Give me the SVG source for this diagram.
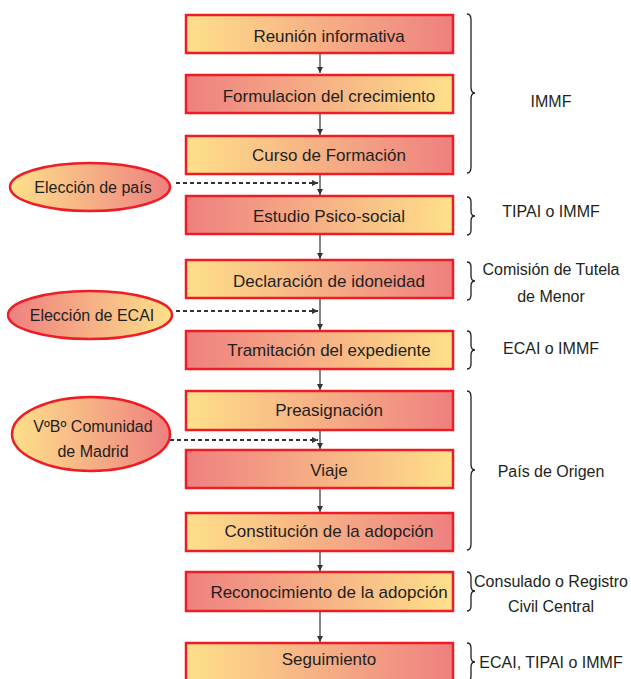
<svg xmlns="http://www.w3.org/2000/svg" width="631" height="679" viewBox="0 0 631 679">
<defs>
<linearGradient id="yr" x1="0" y1="0" x2="1" y2="0"><stop offset="0" stop-color="#FEE08A"/><stop offset="1" stop-color="#EE8080"/></linearGradient>
<linearGradient id="ry" x1="0" y1="0" x2="1" y2="0"><stop offset="0" stop-color="#EE8080"/><stop offset="1" stop-color="#FEE08A"/></linearGradient>
<marker id="ah" viewBox="0 0 10 10" refX="10" refY="5" markerWidth="6" markerHeight="6" markerUnits="userSpaceOnUse" orient="auto"><path d="M0,0 L10,5 L0,10 z" fill="#333"/></marker>
<marker id="ahd" viewBox="0 0 10 10" refX="10" refY="5" markerWidth="7" markerHeight="6" markerUnits="userSpaceOnUse" orient="auto"><path d="M0,0 L10,5 L0,10 z" fill="#333"/></marker>
<style>
.box{stroke:#EE1C25;stroke-width:2.5}
.t{font-family:"Liberation Sans",Arial,sans-serif;font-size:17px;fill:#231F20;text-anchor:middle}
.te{font-family:"Liberation Sans",Arial,sans-serif;font-size:16px;fill:#231F20;text-anchor:middle}
.tr{font-family:"Liberation Sans",Arial,sans-serif;font-size:16px;fill:#231F20;text-anchor:middle}
.arr{stroke:#333;stroke-width:1.2;fill:none;marker-end:url(#ah)}
.dash{stroke:#333;stroke-width:1.8;stroke-dasharray:4 3;fill:none;marker-end:url(#ahd)}
.brace{stroke:#231F20;stroke-width:1.3;fill:none}
</style>
</defs>

<g id="connectors">
<line class="arr" x1="320" y1="54" x2="320" y2="73"/>
<line class="arr" x1="320" y1="114" x2="320" y2="135"/>
<line class="arr" x1="320" y1="175" x2="320" y2="195"/>
<line class="arr" x1="320" y1="235" x2="320" y2="259"/>
<line class="arr" x1="320" y1="299" x2="320" y2="330"/>
<line class="arr" x1="320" y1="370" x2="320" y2="390"/>
<line class="arr" x1="320" y1="431" x2="320" y2="449"/>
<line class="arr" x1="320" y1="489" x2="320" y2="512"/>
<line class="arr" x1="320" y1="552" x2="320" y2="571"/>
<line class="arr" x1="320" y1="612" x2="320" y2="642"/>
<line class="dash" x1="176" y1="183" x2="318" y2="183"/>
<line class="dash" x1="176" y1="311" x2="318" y2="311"/>
<line class="dash" x1="170" y1="440" x2="318" y2="440"/>
</g>

<g id="n1"><rect class="box" x="186" y="15" width="267" height="38" fill="url(#yr)"/><text class="t" x="329" y="42">Reunión informativa</text></g>
<g id="n2"><rect class="box" x="186" y="75" width="267" height="38" fill="url(#ry)"/><text class="t" x="329" y="102">Formulacion del crecimiento</text></g>
<g id="n3"><rect class="box" x="186" y="136" width="267" height="38" fill="url(#yr)"/><text class="t" x="329" y="161">Curso de Formación</text></g>
<g id="n4"><rect class="box" x="186" y="196" width="267" height="38" fill="url(#ry)"/><text class="t" x="329" y="222">Estudio Psico-social</text></g>
<g id="n5"><rect class="box" x="186" y="260" width="267" height="38" fill="url(#yr)"/><text class="t" x="329" y="287">Declaración de idoneidad</text></g>
<g id="n6"><rect class="box" x="186" y="331" width="267" height="38" fill="url(#ry)"/><text class="t" x="329" y="356">Tramitación del expediente</text></g>
<g id="n7"><rect class="box" x="186" y="391" width="267" height="39" fill="url(#yr)"/><text class="t" x="329" y="416">Preasignación</text></g>
<g id="n8"><rect class="box" x="186" y="450" width="267" height="38" fill="url(#ry)"/><text class="t" x="329" y="476">Viaje</text></g>
<g id="n9"><rect class="box" x="186" y="513" width="267" height="38" fill="url(#yr)"/><text class="t" x="329" y="537">Constitución de la adopción</text></g>
<g id="n10"><rect class="box" x="186" y="572" width="267" height="39" fill="url(#ry)"/><text class="t" x="329" y="598">Reconocimiento de la adopción</text></g>
<g id="n11"><rect class="box" x="186" y="643" width="267" height="40" fill="url(#yr)"/><text class="t" x="329" y="665">Seguimiento</text></g>

<g id="e1"><ellipse class="box" cx="90" cy="187" rx="80" ry="24" fill="url(#yr)"/><text class="te" x="93" y="193">Elección de país</text></g>
<g id="e2"><ellipse class="box" cx="90" cy="315" rx="82" ry="24" fill="url(#ry)"/><text class="te" x="92" y="321">Elección de ECAI</text></g>
<g id="e3"><ellipse class="box" cx="91" cy="434" rx="79" ry="37" fill="url(#yr)"/><text class="te" x="93" y="432">VºBº Comunidad</text><text class="te" x="93" y="457">de Madrid</text></g>

<g id="b1"><path class="brace" d="M467,14 Q471,14 471,20 L471,87 Q471,93 475,93 Q471,93 471,99 L471,167 Q471,173 467,173"/><text class="tr" x="551" y="107">IMMF</text></g>
<g id="b2"><path class="brace" d="M467,197 Q471,197 471,202 L471,211 Q471,216 475,216 Q471,216 471,221 L471,230 Q471,235 467,235"/><text class="tr" x="551" y="217">TIPAI o IMMF</text></g>
<g id="b3"><path class="brace" d="M467,262 Q471,262 471,267 L471,276 Q471,281 475,281 Q471,281 471,286 L471,295 Q471,300 467,300"/><text class="tr" x="551" y="275">Comisión de Tutela</text><text class="tr" x="551" y="302">de Menor</text></g>
<g id="b4"><path class="brace" d="M467,331 Q471,331 471,336 L471,345 Q471,350 475,350 Q471,350 471,355 L471,364 Q471,369 467,369"/><text class="tr" x="551" y="354">ECAI o IMMF</text></g>
<g id="b5"><path class="brace" d="M467,391 Q471,391 471,397 L471,464 Q471,470 475,470 Q471,470 471,476 L471,544 Q471,550 467,550"/><text class="tr" x="551" y="477">País de Origen</text></g>
<g id="b6"><path class="brace" d="M467,572 Q471,572 471,577 L471,586 Q471,591 475,591 Q471,591 471,596 L471,606 Q471,611 467,611"/><text class="tr" x="551" y="587">Consulado o Registro</text><text class="tr" x="551" y="612">Civil Central</text></g>
<g id="b7"><path class="brace" d="M467,643 Q471,643 471,648 L471,657 Q471,662 475,662 Q471,662 471,667 L471,676 Q471,681 467,681"/><text class="tr" x="551" y="668">ECAI, TIPAI o IMMF</text></g>
</svg>
